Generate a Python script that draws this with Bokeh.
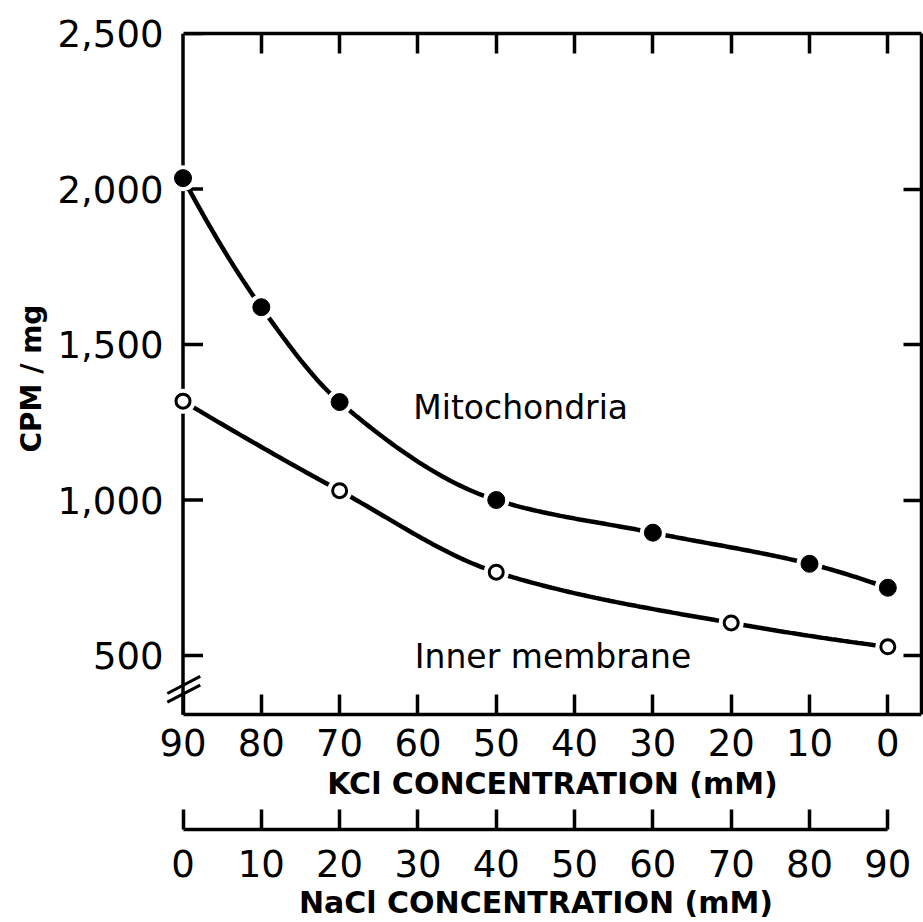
import numpy as np
from bokeh.plotting import figure
from bokeh.models import LinearAxis, FixedTicker, Range1d, Arrow, Label, NumeralTickFormatter, Title
from bokeh.embed import file_html
from bokeh.resources import INLINE

# Salt mixtures: KCl + NaCl always add up to 90 mM
TOTAL_SALT = 90

# Binding (CPM/mg) versus KCl concentration (mM)
kcl_mito = [90, 80, 70, 50, 30, 10, 0]
cpm_mito = [2035, 1620, 1315, 1000, 895, 795, 718]

kcl_inner = [90, 70, 50, 20, 0]
cpm_inner = [1318, 1030, 768, 605, 528]

salt_ticks = [0, 10, 20, 30, 40, 50, 60, 70, 80, 90]
cpm_ticks = [500, 1000, 1500, 2000, 2500]

FONT = "DejaVu Sans"
TICK_FONT = "37px"
TITLE_FONT = "30px"

# ---- page geometry (pixels) ----
W, H = 923, 922
FRAME_L, FRAME_R = 150, 921          # frame edges
AXIS_X = 182.5                       # where the CPM rule sits
CPM_LABEL_RIGHT = 163                # right edge of the CPM tick labels
FRAME_T = 33                         # top of the data box
BOX_B = 715                          # bottom of the data box (KCl rule)
FRAME_B = 830                        # frame bottom = NaCl rule
YTITLE_START = 453                   # lower end of the rotated "CPM / mg"
TICK_LEN = 20

x_end = 94.3
x_start = -(AXIS_X - FRAME_L) * x_end / ((FRAME_R - FRAME_L) - (AXIS_X - FRAME_L))
box_y0, y_end = 310, 2500
x_per_px = (x_end - x_start) / (FRAME_R - FRAME_L)
y_per_px = (y_end - box_y0) / (BOX_B - FRAME_T)
y_start = box_y0 - (FRAME_B - BOX_B) * y_per_px


def smooth(x, y, n=240):
    """Monotone cubic (Fritsch-Carlson) curve through the measured points."""
    x = np.asarray(x, float)
    y = np.asarray(y, float)
    h = np.diff(x)
    d = np.diff(y) / h
    m = np.zeros_like(y)
    for k in range(1, len(x) - 1):
        if d[k - 1] * d[k] > 0:
            w1 = 2 * h[k] + h[k - 1]
            w2 = h[k] + 2 * h[k - 1]
            m[k] = (w1 + w2) / (w1 / d[k - 1] + w2 / d[k])

    def end_slope(h0, h1, d0, d1):
        s = ((2 * h0 + h1) * d0 - h0 * d1) / (h0 + h1)
        if np.sign(s) != np.sign(d0):
            return 0.0
        if np.sign(d0) != np.sign(d1) and abs(s) > 3 * abs(d0):
            return 3 * d0
        return s

    m[0] = end_slope(h[0], h[1], d[0], d[1])
    m[-1] = end_slope(h[-1], h[-2], d[-1], d[-2])
    xs = np.linspace(x[0], x[-1], n)
    i = np.clip(np.searchsorted(x, xs) - 1, 0, len(h) - 1)
    t = (xs - x[i]) / h[i]
    h00 = 2 * t**3 - 3 * t**2 + 1
    h10 = t**3 - 2 * t**2 + t
    h01 = -2 * t**3 + 3 * t**2
    h11 = t**3 - t**2
    ys = h00 * y[i] + h10 * h[i] * m[i] + h01 * y[i + 1] + h11 * h[i] * m[i + 1]
    return xs, ys


# position along the horizontal axis = NaCl concentration
nacl_mito = [TOTAL_SALT - k for k in kcl_mito]
nacl_inner = [TOTAL_SALT - k for k in kcl_inner]

p = figure(width=W, height=H, output_backend="svg", toolbar_location=None,
           x_range=Range1d(x_start, x_end), y_range=Range1d(y_start, y_end),
           x_axis_location=None, y_axis_location=None,
           min_border_left=FRAME_L, min_border_right=W - FRAME_R,
           min_border_top=FRAME_T, min_border_bottom=H - FRAME_B)
p.outline_line_color = None
p.grid.visible = False
p.background_fill_color = "white"
p.border_fill_color = "white"

AX_W = 3.5


def style(ax, tick_len=TICK_LEN, labels=True):
    ax.axis_line_width = AX_W
    ax.axis_line_color = "black"
    ax.major_tick_line_width = AX_W
    ax.major_tick_line_color = "black"
    ax.major_tick_in = tick_len
    ax.major_tick_out = 0
    ax.minor_tick_line_color = None
    ax.major_label_text_font = FONT
    ax.major_label_text_color = "black"
    ax.axis_label_text_font = FONT
    ax.axis_label_text_font_style = "bold"
    ax.axis_label_text_color = "black"
    if labels:
        ax.major_label_text_font_size = TICK_FONT
    else:
        ax.major_label_text_font_size = "1px"
        ax.major_label_text_color = None
        ax.major_label_standoff = 0


# CPM scale: labels come from an axis on the frame edge, the rule itself sits at NaCl = 0
left = LinearAxis(ticker=FixedTicker(ticks=cpm_ticks),
                  formatter=NumeralTickFormatter(format="0,0"))
style(left)
left.axis_line_color = None
left.major_tick_line_color = None
left.major_tick_in = 0
left.major_label_standoff = FRAME_L - CPM_LABEL_RIGHT
p.add_layout(left, "left")

# rotated CPM title, placed along the upper part of the scale
p.add_layout(Title(text="CPM / mg", align="left", offset=FRAME_B - YTITLE_START,
                   text_font=FONT, text_font_size="28px", text_font_style="bold",
                   text_color="black", standoff=14), "left")

p.segment(x0=[0], y0=[box_y0], x1=[0], y1=[y_end], line_width=AX_W, line_color="black")
p.segment(x0=[0] * len(cpm_ticks), y0=cpm_ticks,
          x1=[TICK_LEN * x_per_px] * len(cpm_ticks), y1=cpm_ticks,
          line_width=AX_W, line_color="black")

# KCl scale along the bottom of the data box
kcl_axis = LinearAxis(fixed_location=box_y0, ticker=FixedTicker(ticks=salt_ticks),
                      bounds=(0, x_end),
                      major_label_overrides={n: str(TOTAL_SALT - n) for n in salt_ticks},
                      axis_label="KCl CONCENTRATION (mM)")
style(kcl_axis)
kcl_axis.major_label_standoff = 14
kcl_axis.axis_label_standoff = 7
kcl_axis.axis_label_text_font_size = TITLE_FONT
p.add_layout(kcl_axis, "below")

# NaCl scale at the frame bottom
nacl_axis = LinearAxis(ticker=FixedTicker(ticks=salt_ticks), bounds=(0, TOTAL_SALT),
                       major_label_overrides={n: str(n) for n in salt_ticks},
                       axis_label="NaCl CONCENTRATION (mM)")
style(nacl_axis)
nacl_axis.major_label_standoff = 20
nacl_axis.axis_label_standoff = 5
nacl_axis.axis_label_text_font_size = TITLE_FONT
p.add_layout(nacl_axis, "below")

# top and right edges of the box carry inward ticks only
top = LinearAxis(ticker=FixedTicker(ticks=salt_ticks[1:]), bounds=(0, x_end))
style(top, labels=False)
p.add_layout(top, "above")

right = LinearAxis(ticker=FixedTicker(ticks=cpm_ticks[:-1]), bounds=(box_y0, y_end))
style(right, tick_len=18, labels=False)
p.add_layout(right, "right")

# axis break marks on the CPM axis
for yb in (350, 378):
    p.add_layout(Arrow(end=None, x_start=-2.0, y_start=yb, x_end=2.2, y_end=yb + 55,
                       line_width=3, line_color="black"))

# curves
xm, ym = smooth(nacl_mito, cpm_mito)
xi, yi = smooth(nacl_inner, cpm_inner)
p.line(xm, ym, line_width=4.5, line_color="black", line_cap="round")
p.line(xi, yi, line_width=4.5, line_color="black", line_cap="round")

# markers with a white halo so the line stops short of each point
p.scatter(nacl_mito, cpm_mito, size=26, fill_color="white", line_color=None, level="overlay")
p.scatter(nacl_inner, cpm_inner, size=25, fill_color="white", line_color=None, level="overlay")
p.scatter(nacl_mito, cpm_mito, size=17, fill_color="black", line_color="black", level="overlay")
p.scatter(nacl_inner, cpm_inner, size=14, fill_color="white", line_color="black",
          line_width=3, level="overlay")

p.add_layout(Label(x=29.4, y=1296, text="Mitochondria", text_font=FONT,
                   text_font_size="33px", text_baseline="alphabetic", text_color="black"))
p.add_layout(Label(x=29.6, y=498, text="Inner membrane", text_font=FONT,
                   text_font_size="33px", text_baseline="alphabetic", text_color="black"))

open("out.html", "w").write(file_html(p, INLINE))
